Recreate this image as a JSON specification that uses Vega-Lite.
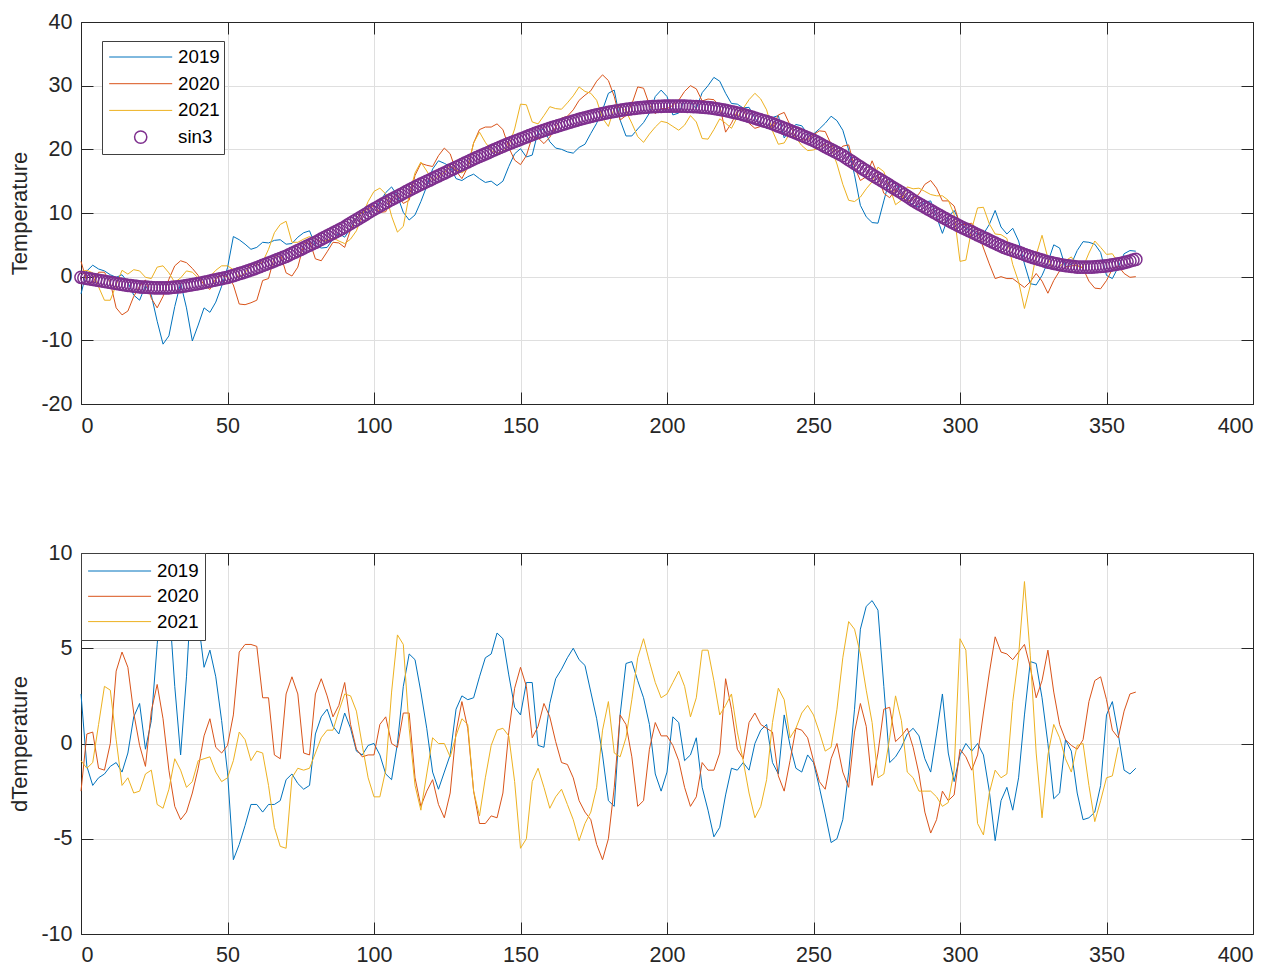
{
  "$schema": "https://vega.github.io/schema/vega-lite/v6.json",
  "background": "white",
  "padding": {"left": 8, "top": 10, "right": 0, "bottom": 0},
  "spacing": 104,
  "config": {
    "font": "Liberation Sans",
    "view": {"stroke": "#262626", "strokeWidth": 1},
    "axis": {
      "labelFont": "Liberation Sans", "labelFontSize": 21.5, "labelColor": "#262626",
      "labelExpr": "replace(datum.label, '\u2212', '-')",
      "titleFont": "Liberation Sans", "titleFontSize": 22, "titleFontWeight": "normal", "titleColor": "#262626",
      "domainColor": "#262626", "tickColor": "#262626", "tickSize": -12, "labelPadding": 21,
      "gridColor": "#dfdfdf", "gridWidth": 1, "titlePadding": 9
    },
    "legend": {
      "labelFont": "Liberation Sans", "labelFontSize": 18.7, "labelColor": "#000000",
      "fillColor": "white", "strokeColor": "#404040", "padding": 4,
      "symbolType": "stroke", "symbolSize": 3969, "symbolStrokeWidth": 1,
      "clipHeight": 24, "symbolOffset": 2.7, "labelOffset": 5.4
    }
  },
  "datasets": {
    "t": [
      {"x":0,"2019":-2.7,"2020":2.4,"2021":0.8},
      {"x":2,"2019":0.9,"2020":-0.8,"2021":1.0},
      {"x":4,"2019":1.8,"2020":-1.0,"2021":0.6},
      {"x":6,"2019":1.2,"2020":0.7,"2021":-1.6},
      {"x":8,"2019":0.9,"2020":0.7,"2021":-3.7},
      {"x":10,"2019":0.3,"2020":-0.9,"2021":-3.7},
      {"x":12,"2019":-0.1,"2020":-4.9,"2021":-1.3},
      {"x":14,"2019":0.3,"2020":-6.0,"2021":1.0},
      {"x":16,"2019":-0.9,"2020":-5.4,"2021":0.4},
      {"x":18,"2019":-2.9,"2020":-3.1,"2021":1.1},
      {"x":20,"2019":-3.7,"2020":-1.5,"2021":0.9},
      {"x":22,"2019":-1.4,"2020":-0.5,"2021":-0.1},
      {"x":24,"2019":-2.9,"2020":-3.4,"2021":-0.3},
      {"x":26,"2019":-7.0,"2020":-4.9,"2021":1.5},
      {"x":28,"2019":-10.6,"2020":-3.1,"2021":1.7},
      {"x":30,"2019":-9.3,"2020":-0.4,"2021":0.6},
      {"x":32,"2019":-4.7,"2020":1.7,"2021":-0.9},
      {"x":34,"2019":-1.0,"2020":2.5,"2021":-0.2},
      {"x":36,"2019":-4.9,"2020":2.2,"2021":0.9},
      {"x":38,"2019":-10.1,"2020":1.3,"2021":0.7},
      {"x":40,"2019":-7.6,"2020":0.2,"2021":-0.2},
      {"x":42,"2019":-4.9,"2020":-1.3,"2021":-0.1},
      {"x":44,"2019":-5.6,"2020":-2.0,"2021":0.0},
      {"x":46,"2019":-4.0,"2020":-0.3,"2021":1.0},
      {"x":48,"2019":-1.5,"2020":0.2,"2021":1.7},
      {"x":50,"2019":1.4,"2020":0.0,"2021":1.7},
      {"x":52,"2019":6.3,"2020":-1.3,"2021":1.1},
      {"x":54,"2019":5.8,"2020":-4.3,"2021":-0.1},
      {"x":56,"2019":5.1,"2020":-4.4,"2021":0.6},
      {"x":58,"2019":4.3,"2020":-4.1,"2021":2.0},
      {"x":60,"2019":4.6,"2020":-3.7,"2021":1.8},
      {"x":62,"2019":5.4,"2020":-0.6,"2021":2.3},
      {"x":64,"2019":5.3,"2020":-0.3,"2021":4.3},
      {"x":66,"2019":5.7,"2020":3.1,"2021":6.9},
      {"x":68,"2019":5.8,"2020":3.6,"2021":8.2},
      {"x":70,"2019":5.1,"2020":0.6,"2021":8.7},
      {"x":72,"2019":5.2,"2020":0.1,"2021":5.4},
      {"x":74,"2019":6.2,"2020":1.5,"2021":5.4},
      {"x":76,"2019":6.9,"2020":5.0,"2021":5.9},
      {"x":78,"2019":7.2,"2020":5.6,"2021":6.3},
      {"x":80,"2019":4.9,"2020":2.8,"2021":5.9},
      {"x":82,"2019":4.5,"2020":2.5,"2021":5.6},
      {"x":84,"2019":4.6,"2020":3.9,"2021":5.7},
      {"x":86,"2019":5.9,"2020":5.4,"2021":6.1},
      {"x":88,"2019":6.8,"2020":5.3,"2021":5.6},
      {"x":90,"2019":6.2,"2020":4.6,"2021":5.2},
      {"x":92,"2019":7.6,"2020":7.4,"2021":5.9},
      {"x":94,"2019":9.3,"2020":9.2,"2021":7.2},
      {"x":96,"2019":10.1,"2020":10.2,"2021":9.6},
      {"x":98,"2019":10.1,"2020":10.6,"2021":11.8},
      {"x":100,"2019":10.6,"2020":11.2,"2021":13.4},
      {"x":102,"2019":11.7,"2020":10.1,"2021":13.9},
      {"x":104,"2019":13.2,"2020":10.2,"2021":13.0},
      {"x":106,"2019":14.1,"2020":12.2,"2021":9.5},
      {"x":108,"2019":12.7,"2020":12.9,"2021":7.0},
      {"x":110,"2019":10.1,"2020":11.5,"2021":7.9},
      {"x":112,"2019":8.9,"2020":12.0,"2021":12.8},
      {"x":114,"2019":9.7,"2020":15.9,"2021":16.3},
      {"x":116,"2019":11.8,"2020":17.8,"2021":18.0},
      {"x":118,"2019":14.2,"2020":17.5,"2021":16.6},
      {"x":120,"2019":16.9,"2020":17.3,"2021":15.1},
      {"x":122,"2019":18.2,"2020":19.0,"2021":15.8},
      {"x":124,"2019":17.8,"2020":20.2,"2021":16.3},
      {"x":126,"2019":17.3,"2020":19.3,"2021":17.4},
      {"x":128,"2019":15.4,"2020":16.6,"2021":16.8},
      {"x":130,"2019":15.1,"2020":15.4,"2021":16.3},
      {"x":132,"2019":15.7,"2020":17.2,"2021":17.0},
      {"x":134,"2019":16.1,"2020":21.0,"2021":21.0},
      {"x":136,"2019":15.4,"2020":23.1,"2021":22.7},
      {"x":138,"2019":14.8,"2020":23.5,"2021":21.1},
      {"x":140,"2019":15.0,"2020":23.5,"2021":19.8},
      {"x":142,"2019":14.3,"2020":24.0,"2021":19.4},
      {"x":144,"2019":15.0,"2020":23.1,"2021":19.7},
      {"x":146,"2019":17.3,"2020":20.3,"2021":20.5},
      {"x":148,"2019":19.3,"2020":18.3,"2021":23.2},
      {"x":150,"2019":20.1,"2020":17.6,"2021":27.1},
      {"x":152,"2019":18.8,"2020":19.0,"2021":27.0},
      {"x":154,"2019":19.1,"2020":22.0,"2021":24.3},
      {"x":156,"2019":22.8,"2020":21.8,"2021":24.0},
      {"x":158,"2019":23.2,"2020":20.9,"2021":25.3},
      {"x":160,"2019":21.2,"2020":21.9,"2021":26.7},
      {"x":162,"2019":20.2,"2020":23.5,"2021":26.4},
      {"x":164,"2019":20.0,"2020":24.9,"2021":26.3},
      {"x":166,"2019":19.6,"2020":25.2,"2021":27.3},
      {"x":168,"2019":19.4,"2020":26.2,"2021":28.4},
      {"x":170,"2019":20.3,"2020":27.7,"2021":29.8},
      {"x":172,"2019":20.8,"2020":28.5,"2021":29.1},
      {"x":174,"2019":22.5,"2020":29.2,"2021":28.8},
      {"x":176,"2019":24.1,"2020":30.7,"2021":27.7},
      {"x":178,"2019":26.2,"2020":31.7,"2021":24.9},
      {"x":180,"2019":28.8,"2020":30.8,"2021":23.6},
      {"x":182,"2019":29.3,"2020":28.3,"2021":26.5},
      {"x":184,"2019":24.6,"2020":24.6,"2021":26.8},
      {"x":186,"2019":22.1,"2020":25.3,"2021":26.0},
      {"x":188,"2019":22.1,"2020":27.1,"2021":24.1},
      {"x":190,"2019":23.2,"2020":29.8,"2021":22.0},
      {"x":192,"2019":24.2,"2020":29.6,"2021":21.1},
      {"x":194,"2019":25.7,"2020":27.0,"2021":22.4},
      {"x":196,"2019":28.3,"2020":25.6,"2021":23.5},
      {"x":198,"2019":29.3,"2020":26.4,"2021":24.4},
      {"x":200,"2019":28.3,"2020":26.4,"2021":24.2},
      {"x":202,"2019":25.4,"2020":26.9,"2021":23.6},
      {"x":204,"2019":25.7,"2020":27.7,"2021":23.0},
      {"x":206,"2019":27.7,"2020":29.1,"2021":23.8},
      {"x":208,"2019":27.3,"2020":30.0,"2021":25.3},
      {"x":210,"2019":26.4,"2020":29.5,"2021":24.3},
      {"x":212,"2019":28.9,"2020":27.6,"2021":21.7},
      {"x":214,"2019":30.0,"2020":27.9,"2021":21.6},
      {"x":216,"2019":31.3,"2020":27.8,"2021":23.1},
      {"x":218,"2019":30.7,"2020":26.8,"2021":24.8},
      {"x":220,"2019":28.8,"2020":22.7,"2021":24.1},
      {"x":222,"2019":27.2,"2020":24.1,"2021":23.3},
      {"x":224,"2019":27.1,"2020":26.0,"2021":25.1},
      {"x":226,"2019":26.5,"2020":26.3,"2021":26.4},
      {"x":228,"2019":26.6,"2020":24.1,"2021":27.8},
      {"x":230,"2019":24.9,"2020":23.3,"2021":28.8},
      {"x":232,"2019":23.9,"2020":23.6,"2021":27.9},
      {"x":234,"2019":23.3,"2020":23.5,"2021":26.2},
      {"x":236,"2019":25.0,"2020":23.4,"2021":22.9},
      {"x":238,"2019":25.3,"2020":25.4,"2021":20.8},
      {"x":240,"2019":21.8,"2020":25.8,"2021":21.0},
      {"x":242,"2019":23.0,"2020":23.8,"2021":22.6},
      {"x":244,"2019":23.9,"2020":21.8,"2021":21.8},
      {"x":246,"2019":23.7,"2020":21.5,"2021":20.6},
      {"x":248,"2019":22.4,"2020":21.5,"2021":19.8},
      {"x":250,"2019":22.4,"2020":22.3,"2021":19.9},
      {"x":252,"2019":23.2,"2020":22.9,"2021":20.3},
      {"x":254,"2019":24.1,"2020":22.8,"2021":20.8},
      {"x":256,"2019":25.2,"2020":20.8,"2021":20.2},
      {"x":258,"2019":24.5,"2020":19.5,"2021":17.7},
      {"x":260,"2019":23.0,"2020":20.5,"2021":14.5},
      {"x":262,"2019":19.9,"2020":20.7,"2021":12.0},
      {"x":264,"2019":16.0,"2020":17.2,"2021":11.8},
      {"x":266,"2019":11.2,"2020":15.1,"2021":12.5},
      {"x":268,"2019":9.4,"2020":15.7,"2021":13.8},
      {"x":270,"2019":8.5,"2020":18.2,"2021":14.9},
      {"x":272,"2019":8.4,"2020":15.9,"2021":17.2},
      {"x":274,"2019":11.9,"2020":13.1,"2021":16.5},
      {"x":276,"2019":15.3,"2020":12.4,"2021":14.0},
      {"x":278,"2019":14.5,"2020":13.7,"2021":11.3},
      {"x":280,"2019":13.4,"2020":12.8,"2021":12.0},
      {"x":282,"2019":12.1,"2020":11.8,"2021":14.1},
      {"x":284,"2019":11.2,"2020":12.2,"2021":13.8},
      {"x":286,"2019":11.0,"2020":13.0,"2021":13.9},
      {"x":288,"2019":11.7,"2020":14.5,"2021":13.4},
      {"x":290,"2019":11.9,"2020":15.1,"2021":12.9},
      {"x":292,"2019":9.4,"2020":13.9,"2021":12.7},
      {"x":294,"2019":6.8,"2020":11.9,"2021":12.7},
      {"x":296,"2019":9.4,"2020":11.9,"2021":12.0},
      {"x":298,"2019":10.4,"2020":11.1,"2021":9.8},
      {"x":300,"2019":8.5,"2020":8.2,"2021":2.4},
      {"x":302,"2019":7.5,"2020":8.2,"2021":2.6},
      {"x":304,"2019":7.4,"2020":8.4,"2021":7.5},
      {"x":306,"2019":6.6,"2020":7.2,"2021":10.8},
      {"x":308,"2019":6.7,"2020":4.5,"2021":10.9},
      {"x":310,"2019":8.2,"2020":2.0,"2021":8.3},
      {"x":312,"2019":10.4,"2020":-0.3,"2021":6.7},
      {"x":314,"2019":7.8,"2020":0.0,"2021":6.6},
      {"x":316,"2019":6.7,"2020":-0.3,"2021":6.0},
      {"x":318,"2019":7.6,"2020":-0.3,"2021":1.9},
      {"x":320,"2019":5.6,"2020":-1.0,"2021":-0.8},
      {"x":322,"2019":2.0,"2020":-1.7,"2021":-5.0},
      {"x":324,"2019":-1.1,"2020":-0.8,"2021":-1.4},
      {"x":326,"2019":-1.3,"2020":0.5,"2021":3.4},
      {"x":328,"2019":0.2,"2020":-0.7,"2021":6.5},
      {"x":330,"2019":2.3,"2020":-2.6,"2021":2.9},
      {"x":332,"2019":5.0,"2020":-0.6,"2021":1.1},
      {"x":334,"2019":4.5,"2020":0.9,"2021":1.6},
      {"x":336,"2019":1.5,"2020":1.5,"2021":2.5},
      {"x":338,"2019":2.0,"2020":1.7,"2021":3.1},
      {"x":340,"2019":4.1,"2020":1.8,"2021":1.6},
      {"x":342,"2019":5.5,"2020":1.3,"2021":1.5},
      {"x":344,"2019":5.4,"2020":-0.7,"2021":3.7},
      {"x":346,"2019":5.1,"2020":-1.8,"2021":5.6},
      {"x":348,"2019":3.8,"2020":-1.9,"2021":4.6},
      {"x":350,"2019":0.2,"2020":-0.6,"2021":3.5},
      {"x":352,"2019":-0.3,"2020":1.2,"2021":3.6},
      {"x":354,"2019":1.5,"2020":1.7,"2021":2.2},
      {"x":356,"2019":3.6,"2020":0.5},
      {"x":358,"2019":4.1,"2020":-0.1},
      {"x":360,"2019":4.0,"2020":0.0}
    ],
    "c": [
      {"x":0,"s":-0.1},{"x":1,"s":-0.2},{"x":2,"s":-0.26},{"x":3,"s":-0.34},{"x":4,"s":-0.42},{"x":5,"s":-0.5},{"x":6,"s":-0.58},{"x":7,"s":-0.66},{"x":8,"s":-0.74},{"x":9,"s":-0.82},
      {"x":10,"s":-0.9},{"x":11,"s":-0.98},{"x":12,"s":-1.06},{"x":13,"s":-1.14},{"x":14,"s":-1.22},{"x":15,"s":-1.3},{"x":16,"s":-1.36},{"x":17,"s":-1.42},{"x":18,"s":-1.48},{"x":19,"s":-1.54},
      {"x":20,"s":-1.6},{"x":21,"s":-1.63},{"x":22,"s":-1.66},{"x":23,"s":-1.69},{"x":24,"s":-1.72},{"x":25,"s":-1.75},{"x":26,"s":-1.75},{"x":27,"s":-1.75},{"x":28,"s":-1.75},{"x":29,"s":-1.75},
      {"x":30,"s":-1.75},{"x":31,"s":-1.7},{"x":32,"s":-1.65},{"x":33,"s":-1.6},{"x":34,"s":-1.55},{"x":35,"s":-1.5},{"x":36,"s":-1.42},{"x":37,"s":-1.34},{"x":38,"s":-1.26},{"x":39,"s":-1.18},
      {"x":40,"s":-1.1},{"x":41,"s":-1.0},{"x":42,"s":-0.9},{"x":43,"s":-0.8},{"x":44,"s":-0.7},{"x":45,"s":-0.6},{"x":46,"s":-0.5},{"x":47,"s":-0.4},{"x":48,"s":-0.3},{"x":49,"s":-0.2},
      {"x":50,"s":-0.1},{"x":51,"s":0.04},{"x":52,"s":0.18},{"x":53,"s":0.32},{"x":54,"s":0.46},{"x":55,"s":0.6},{"x":56,"s":0.76},{"x":57,"s":0.92},{"x":58,"s":1.08},{"x":59,"s":1.24},
      {"x":60,"s":1.4},{"x":61,"s":1.58},{"x":62,"s":1.76},{"x":63,"s":1.94},{"x":64,"s":2.12},{"x":65,"s":2.3},{"x":66,"s":2.48},{"x":67,"s":2.66},{"x":68,"s":2.84},{"x":69,"s":3.02},
      {"x":70,"s":3.2},{"x":71,"s":3.42},{"x":72,"s":3.64},{"x":73,"s":3.86},{"x":74,"s":4.08},{"x":75,"s":4.3},{"x":76,"s":4.52},{"x":77,"s":4.74},{"x":78,"s":4.96},{"x":79,"s":5.18},
      {"x":80,"s":5.4},{"x":81,"s":5.64},{"x":82,"s":5.88},{"x":83,"s":6.12},{"x":84,"s":6.36},{"x":85,"s":6.6},{"x":86,"s":6.84},{"x":87,"s":7.08},{"x":88,"s":7.32},{"x":89,"s":7.56},
      {"x":90,"s":7.8},{"x":91,"s":8.08},{"x":92,"s":8.36},{"x":93,"s":8.64},{"x":94,"s":8.92},{"x":95,"s":9.2},{"x":96,"s":9.48},{"x":97,"s":9.76},{"x":98,"s":10.04},{"x":99,"s":10.32},
      {"x":100,"s":10.6},{"x":101,"s":10.86},{"x":102,"s":11.12},{"x":103,"s":11.38},{"x":104,"s":11.64},{"x":105,"s":11.9},{"x":106,"s":12.14},{"x":107,"s":12.38},{"x":108,"s":12.62},{"x":109,"s":12.86},
      {"x":110,"s":13.1},{"x":111,"s":13.34},{"x":112,"s":13.58},{"x":113,"s":13.82},{"x":114,"s":14.06},{"x":115,"s":14.3},{"x":116,"s":14.52},{"x":117,"s":14.74},{"x":118,"s":14.96},{"x":119,"s":15.18},
      {"x":120,"s":15.4},{"x":121,"s":15.62},{"x":122,"s":15.84},{"x":123,"s":16.06},{"x":124,"s":16.28},{"x":125,"s":16.5},{"x":126,"s":16.72},{"x":127,"s":16.94},{"x":128,"s":17.16},{"x":129,"s":17.38},
      {"x":130,"s":17.6},{"x":131,"s":17.82},{"x":132,"s":18.04},{"x":133,"s":18.26},{"x":134,"s":18.48},{"x":135,"s":18.7},{"x":136,"s":18.9},{"x":137,"s":19.1},{"x":138,"s":19.3},{"x":139,"s":19.5},
      {"x":140,"s":19.7},{"x":141,"s":19.9},{"x":142,"s":20.1},{"x":143,"s":20.3},{"x":144,"s":20.5},{"x":145,"s":20.7},{"x":146,"s":20.88},{"x":147,"s":21.06},{"x":148,"s":21.24},{"x":149,"s":21.42},
      {"x":150,"s":21.6},{"x":151,"s":21.78},{"x":152,"s":21.96},{"x":153,"s":22.14},{"x":154,"s":22.32},{"x":155,"s":22.5},{"x":156,"s":22.66},{"x":157,"s":22.82},{"x":158,"s":22.98},{"x":159,"s":23.14},
      {"x":160,"s":23.3},{"x":161,"s":23.44},{"x":162,"s":23.58},{"x":163,"s":23.72},{"x":164,"s":23.86},{"x":165,"s":24.0},{"x":166,"s":24.14},{"x":167,"s":24.28},{"x":168,"s":24.42},{"x":169,"s":24.56},
      {"x":170,"s":24.7},{"x":171,"s":24.82},{"x":172,"s":24.94},{"x":173,"s":25.06},{"x":174,"s":25.18},{"x":175,"s":25.3},{"x":176,"s":25.4},{"x":177,"s":25.5},{"x":178,"s":25.6},{"x":179,"s":25.7},
      {"x":180,"s":25.8},{"x":181,"s":25.88},{"x":182,"s":25.96},{"x":183,"s":26.04},{"x":184,"s":26.12},{"x":185,"s":26.2},{"x":186,"s":26.26},{"x":187,"s":26.32},{"x":188,"s":26.38},{"x":189,"s":26.44},
      {"x":190,"s":26.5},{"x":191,"s":26.54},{"x":192,"s":26.58},{"x":193,"s":26.62},{"x":194,"s":26.66},{"x":195,"s":26.7},{"x":196,"s":26.72},{"x":197,"s":26.74},{"x":198,"s":26.76},{"x":199,"s":26.78},
      {"x":200,"s":26.8},{"x":201,"s":26.8},{"x":202,"s":26.8},{"x":203,"s":26.8},{"x":204,"s":26.8},{"x":205,"s":26.8},{"x":206,"s":26.78},{"x":207,"s":26.76},{"x":208,"s":26.74},{"x":209,"s":26.72},
      {"x":210,"s":26.7},{"x":211,"s":26.66},{"x":212,"s":26.62},{"x":213,"s":26.58},{"x":214,"s":26.54},{"x":215,"s":26.5},{"x":216,"s":26.42},{"x":217,"s":26.34},{"x":218,"s":26.26},{"x":219,"s":26.18},
      {"x":220,"s":26.1},{"x":221,"s":26.0},{"x":222,"s":25.9},{"x":223,"s":25.8},{"x":224,"s":25.7},{"x":225,"s":25.6},{"x":226,"s":25.46},{"x":227,"s":25.32},{"x":228,"s":25.18},{"x":229,"s":25.04},
      {"x":230,"s":24.9},{"x":231,"s":24.76},{"x":232,"s":24.62},{"x":233,"s":24.48},{"x":234,"s":24.34},{"x":235,"s":24.2},{"x":236,"s":24.02},{"x":237,"s":23.84},{"x":238,"s":23.66},{"x":239,"s":23.48},
      {"x":240,"s":23.3},{"x":241,"s":23.12},{"x":242,"s":22.94},{"x":243,"s":22.76},{"x":244,"s":22.58},{"x":245,"s":22.4},{"x":246,"s":22.2},{"x":247,"s":22.0},{"x":248,"s":21.8},{"x":249,"s":21.6},
      {"x":250,"s":21.4},{"x":251,"s":21.16},{"x":252,"s":20.92},{"x":253,"s":20.68},{"x":254,"s":20.44},{"x":255,"s":20.2},{"x":256,"s":19.96},{"x":257,"s":19.72},{"x":258,"s":19.48},{"x":259,"s":19.24},
      {"x":260,"s":19.0},{"x":261,"s":18.7},{"x":262,"s":18.4},{"x":263,"s":18.1},{"x":264,"s":17.8},{"x":265,"s":17.5},{"x":266,"s":17.2},{"x":267,"s":16.9},{"x":268,"s":16.6},{"x":269,"s":16.3},
      {"x":270,"s":16.0},{"x":271,"s":15.72},{"x":272,"s":15.44},{"x":273,"s":15.16},{"x":274,"s":14.88},{"x":275,"s":14.6},{"x":276,"s":14.32},{"x":277,"s":14.04},{"x":278,"s":13.76},{"x":279,"s":13.48},
      {"x":280,"s":13.2},{"x":281,"s":12.9},{"x":282,"s":12.6},{"x":283,"s":12.3},{"x":284,"s":12.0},{"x":285,"s":11.7},{"x":286,"s":11.44},{"x":287,"s":11.18},{"x":288,"s":10.92},{"x":289,"s":10.66},
      {"x":290,"s":10.4},{"x":291,"s":10.14},{"x":292,"s":9.88},{"x":293,"s":9.62},{"x":294,"s":9.36},{"x":295,"s":9.1},{"x":296,"s":8.86},{"x":297,"s":8.62},{"x":298,"s":8.38},{"x":299,"s":8.14},
      {"x":300,"s":7.9},{"x":301,"s":7.68},{"x":302,"s":7.46},{"x":303,"s":7.24},{"x":304,"s":7.02},{"x":305,"s":6.8},{"x":306,"s":6.58},{"x":307,"s":6.36},{"x":308,"s":6.14},{"x":309,"s":5.92},
      {"x":310,"s":5.7},{"x":311,"s":5.48},{"x":312,"s":5.26},{"x":313,"s":5.04},{"x":314,"s":4.82},{"x":315,"s":4.6},{"x":316,"s":4.44},{"x":317,"s":4.28},{"x":318,"s":4.12},{"x":319,"s":3.96},
      {"x":320,"s":3.8},{"x":321,"s":3.64},{"x":322,"s":3.48},{"x":323,"s":3.32},{"x":324,"s":3.16},{"x":325,"s":3.0},{"x":326,"s":2.86},{"x":327,"s":2.72},{"x":328,"s":2.58},{"x":329,"s":2.44},
      {"x":330,"s":2.3},{"x":331,"s":2.2},{"x":332,"s":2.1},{"x":333,"s":2.0},{"x":334,"s":1.9},{"x":335,"s":1.8},{"x":336,"s":1.74},{"x":337,"s":1.68},{"x":338,"s":1.62},{"x":339,"s":1.56},
      {"x":340,"s":1.5},{"x":341,"s":1.5},{"x":342,"s":1.5},{"x":343,"s":1.5},{"x":344,"s":1.5},{"x":345,"s":1.5},{"x":346,"s":1.54},{"x":347,"s":1.58},{"x":348,"s":1.62},{"x":349,"s":1.66},
      {"x":350,"s":1.7},{"x":351,"s":1.78},{"x":352,"s":1.86},{"x":353,"s":1.94},{"x":354,"s":2.02},{"x":355,"s":2.1},{"x":356,"s":2.22},{"x":357,"s":2.34},{"x":358,"s":2.46},{"x":359,"s":2.58},
      {"x":360,"s":2.7}
    ],
    "d": [
      {"x":0,"2019":2.6,"2020":-2.5,"2021":-0.9},
      {"x":2,"2019":-1.2,"2020":0.5,"2021":-1.3},
      {"x":4,"2019":-2.2,"2020":0.6,"2021":-1.0},
      {"x":6,"2019":-1.8,"2020":-1.3,"2021":1.0},
      {"x":8,"2019":-1.6,"2020":-1.4,"2021":3.0},
      {"x":10,"2019":-1.2,"2020":0.0,"2021":2.8},
      {"x":12,"2019":-1.0,"2020":3.8,"2021":0.2},
      {"x":14,"2019":-1.5,"2020":4.8,"2021":-2.2},
      {"x":16,"2019":-0.5,"2020":4.0,"2021":-1.8},
      {"x":18,"2019":1.4,"2020":1.6,"2021":-2.6},
      {"x":20,"2019":2.1,"2020":-0.1,"2021":-2.5},
      {"x":22,"2019":-0.3,"2020":-1.2,"2021":-1.6},
      {"x":24,"2019":1.2,"2020":1.7,"2021":-1.4},
      {"x":26,"2019":5.2,"2020":3.1,"2021":-3.2},
      {"x":28,"2019":8.8,"2020":1.3,"2021":-3.4},
      {"x":30,"2019":7.5,"2020":-1.4,"2021":-2.4},
      {"x":32,"2019":3.0,"2020":-3.3,"2021":-0.8},
      {"x":34,"2019":-0.6,"2020":-4.0,"2021":-1.4},
      {"x":36,"2019":3.5,"2020":-3.6,"2021":-2.3},
      {"x":38,"2019":8.8,"2020":-2.6,"2021":-2.0},
      {"x":40,"2019":6.5,"2020":-1.3,"2021":-0.9},
      {"x":42,"2019":4.0,"2020":0.4,"2021":-0.8},
      {"x":44,"2019":4.9,"2020":1.3,"2021":-0.7},
      {"x":46,"2019":3.5,"2020":-0.2,"2021":-1.5},
      {"x":48,"2019":1.2,"2020":-0.5,"2021":-2.0},
      {"x":50,"2019":-1.5,"2020":-0.1,"2021":-1.8},
      {"x":52,"2019":-6.1,"2020":1.5,"2021":-0.9},
      {"x":54,"2019":-5.3,"2020":4.8,"2021":0.6},
      {"x":56,"2019":-4.3,"2020":5.2,"2021":0.2},
      {"x":58,"2019":-3.2,"2020":5.2,"2021":-0.9},
      {"x":60,"2019":-3.2,"2020":5.1,"2021":-0.4},
      {"x":62,"2019":-3.6,"2020":2.4,"2021":-0.5},
      {"x":64,"2019":-3.2,"2020":2.4,"2021":-2.2},
      {"x":66,"2019":-3.2,"2020":-0.6,"2021":-4.4},
      {"x":68,"2019":-3.0,"2020":-0.8,"2021":-5.4},
      {"x":70,"2019":-1.9,"2020":2.6,"2021":-5.5},
      {"x":72,"2019":-1.6,"2020":3.5,"2021":-1.8},
      {"x":74,"2019":-2.1,"2020":2.6,"2021":-1.3},
      {"x":76,"2019":-2.4,"2020":-0.5,"2021":-1.4},
      {"x":78,"2019":-2.2,"2020":-0.6,"2021":-1.3},
      {"x":80,"2019":0.5,"2020":2.6,"2021":-0.5},
      {"x":82,"2019":1.4,"2020":3.4,"2021":0.3},
      {"x":84,"2019":1.8,"2020":2.5,"2021":0.7},
      {"x":86,"2019":0.9,"2020":1.4,"2021":0.7},
      {"x":88,"2019":0.5,"2020":2.0,"2021":1.7},
      {"x":90,"2019":1.6,"2020":3.2,"2021":2.6},
      {"x":92,"2019":0.8,"2020":1.0,"2021":2.5},
      {"x":94,"2019":-0.4,"2020":-0.3,"2021":1.7},
      {"x":96,"2019":-0.6,"2020":-0.7,"2021":-0.1},
      {"x":98,"2019":-0.1,"2020":-0.6,"2021":-1.8},
      {"x":100,"2019":0.0,"2020":-0.6,"2021":-2.8},
      {"x":102,"2019":-0.6,"2020":1.0,"2021":-2.8},
      {"x":104,"2019":-1.6,"2020":1.4,"2021":-1.4},
      {"x":106,"2019":-1.9,"2020":0.0,"2021":2.7},
      {"x":108,"2019":0.0,"2020":-0.2,"2021":5.7},
      {"x":110,"2019":3.0,"2020":1.6,"2021":5.2},
      {"x":112,"2019":4.7,"2020":1.6,"2021":0.8},
      {"x":114,"2019":4.4,"2020":-1.8,"2021":-2.2},
      {"x":116,"2019":2.7,"2020":-3.3,"2021":-3.5},
      {"x":118,"2019":0.8,"2020":-2.5,"2021":-1.6},
      {"x":120,"2019":-1.5,"2020":-1.9,"2021":0.3},
      {"x":122,"2019":-2.4,"2020":-3.2,"2021":0.0},
      {"x":124,"2019":-1.5,"2020":-3.9,"2021":0.0},
      {"x":126,"2019":-0.6,"2020":-2.6,"2021":-0.7},
      {"x":128,"2019":1.8,"2020":0.6,"2021":0.4},
      {"x":130,"2019":2.5,"2020":2.2,"2021":1.3},
      {"x":132,"2019":2.3,"2020":0.8,"2021":1.0},
      {"x":134,"2019":2.4,"2020":-2.5,"2021":-2.5},
      {"x":136,"2019":3.5,"2020":-4.2,"2021":-3.8},
      {"x":138,"2019":4.5,"2020":-4.2,"2021":-1.8},
      {"x":140,"2019":4.7,"2020":-3.8,"2021":-0.1},
      {"x":142,"2019":5.8,"2020":-3.9,"2021":0.7},
      {"x":144,"2019":5.5,"2020":-2.6,"2021":0.8},
      {"x":146,"2019":3.6,"2020":0.6,"2021":0.4},
      {"x":148,"2019":1.9,"2020":2.9,"2021":-2.0},
      {"x":150,"2019":1.5,"2020":4.0,"2021":-5.5},
      {"x":152,"2019":3.2,"2020":3.0,"2021":-5.0},
      {"x":154,"2019":3.2,"2020":0.3,"2021":-2.0},
      {"x":156,"2019":-0.1,"2020":0.9,"2021":-1.3},
      {"x":158,"2019":-0.2,"2020":2.1,"2021":-2.3},
      {"x":160,"2019":2.1,"2020":1.4,"2021":-3.4},
      {"x":162,"2019":3.4,"2020":0.1,"2021":-2.8},
      {"x":164,"2019":3.9,"2020":-1.0,"2021":-2.4},
      {"x":166,"2019":4.5,"2020":-1.1,"2021":-3.2},
      {"x":168,"2019":5.0,"2020":-1.8,"2021":-4.0},
      {"x":170,"2019":4.4,"2020":-3.0,"2021":-5.1},
      {"x":172,"2019":4.1,"2020":-3.6,"2021":-4.2},
      {"x":174,"2019":2.7,"2020":-4.0,"2021":-3.6},
      {"x":176,"2019":1.3,"2020":-5.3,"2021":-2.3},
      {"x":178,"2019":-0.6,"2020":-6.1,"2021":0.7},
      {"x":180,"2019":-3.0,"2020":-5.0,"2021":2.2},
      {"x":182,"2019":-3.3,"2020":-2.3,"2021":-0.5},
      {"x":184,"2019":1.5,"2020":1.5,"2021":-0.7},
      {"x":186,"2019":4.2,"2020":1.0,"2021":0.3},
      {"x":188,"2019":4.3,"2020":-0.7,"2021":2.3},
      {"x":190,"2019":3.3,"2020":-3.3,"2021":4.5},
      {"x":192,"2019":2.4,"2020":-3.0,"2021":5.5},
      {"x":194,"2019":1.0,"2020":-0.3,"2021":4.3},
      {"x":196,"2019":-1.6,"2020":1.1,"2021":3.2},
      {"x":198,"2019":-2.5,"2020":0.4,"2021":2.4},
      {"x":200,"2019":-1.5,"2020":0.4,"2021":2.6},
      {"x":202,"2019":1.4,"2020":-0.1,"2021":3.2},
      {"x":204,"2019":1.1,"2020":-0.9,"2021":3.8},
      {"x":206,"2019":-0.9,"2020":-2.3,"2021":3.0},
      {"x":208,"2019":-0.6,"2020":-3.3,"2021":1.4},
      {"x":210,"2019":0.3,"2020":-2.8,"2021":2.4},
      {"x":212,"2019":-2.3,"2020":-1.0,"2021":4.9},
      {"x":214,"2019":-3.5,"2020":-1.4,"2021":4.9},
      {"x":216,"2019":-4.9,"2020":-1.4,"2021":3.3},
      {"x":218,"2019":-4.4,"2020":-0.5,"2021":1.5},
      {"x":220,"2019":-2.7,"2020":3.4,"2021":2.0},
      {"x":222,"2019":-1.3,"2020":1.8,"2021":2.6},
      {"x":224,"2019":-1.4,"2020":-0.3,"2021":0.6},
      {"x":226,"2019":-1.0,"2020":-0.8,"2021":-0.9},
      {"x":228,"2019":-1.4,"2020":1.1,"2021":-2.6},
      {"x":230,"2019":0.0,"2020":1.6,"2021":-3.9},
      {"x":232,"2019":0.7,"2020":1.0,"2021":-3.3},
      {"x":234,"2019":1.0,"2020":0.8,"2021":-1.9},
      {"x":236,"2019":-1.0,"2020":0.6,"2021":1.1},
      {"x":238,"2019":-1.6,"2020":-1.7,"2021":2.9},
      {"x":240,"2019":1.5,"2020":-2.5,"2021":2.3},
      {"x":242,"2019":-0.1,"2020":-0.9,"2021":0.3},
      {"x":244,"2019":-1.3,"2020":0.8,"2021":0.8},
      {"x":246,"2019":-1.5,"2020":0.7,"2021":1.6},
      {"x":248,"2019":-0.6,"2020":0.3,"2021":2.0},
      {"x":250,"2019":-1.0,"2020":-0.9,"2021":1.5},
      {"x":252,"2019":-2.3,"2020":-2.0,"2021":0.6},
      {"x":254,"2019":-3.7,"2020":-2.4,"2021":-0.4},
      {"x":256,"2019":-5.2,"2020":-0.8,"2021":-0.2},
      {"x":258,"2019":-5.0,"2020":0.0,"2021":1.8},
      {"x":260,"2019":-4.0,"2020":-1.5,"2021":4.5},
      {"x":262,"2019":-1.5,"2020":-2.3,"2021":6.4},
      {"x":264,"2019":1.8,"2020":0.6,"2021":6.0},
      {"x":266,"2019":6.0,"2020":2.1,"2021":4.7},
      {"x":268,"2019":7.2,"2020":0.9,"2021":2.8},
      {"x":270,"2019":7.5,"2020":-2.2,"2021":1.1},
      {"x":272,"2019":7.0,"2020":-0.5,"2021":-1.8},
      {"x":274,"2019":3.0,"2020":1.8,"2021":-1.6},
      {"x":276,"2019":-1.0,"2020":1.9,"2021":0.3},
      {"x":278,"2019":-0.7,"2020":0.1,"2021":2.5},
      {"x":280,"2019":-0.2,"2020":0.4,"2021":1.2},
      {"x":282,"2019":0.5,"2020":0.8,"2021":-1.5},
      {"x":284,"2019":0.8,"2020":-0.2,"2021":-1.8},
      {"x":286,"2019":0.4,"2020":-1.6,"2021":-2.5},
      {"x":288,"2019":-0.8,"2020":-3.6,"2021":-2.5},
      {"x":290,"2019":-1.5,"2020":-4.7,"2021":-2.5},
      {"x":292,"2019":0.5,"2020":-4.0,"2021":-2.8},
      {"x":294,"2019":2.6,"2020":-2.5,"2021":-3.3},
      {"x":296,"2019":-0.5,"2020":-3.0,"2021":-3.1},
      {"x":298,"2019":-2.0,"2020":-2.7,"2021":-1.4},
      {"x":300,"2019":-0.6,"2020":-0.3,"2021":5.5},
      {"x":302,"2019":0.0,"2020":-0.7,"2021":4.9},
      {"x":304,"2019":-0.4,"2020":-1.4,"2021":-0.5},
      {"x":306,"2019":0.0,"2020":-0.6,"2021":-4.2},
      {"x":308,"2019":-0.6,"2020":1.6,"2021":-4.8},
      {"x":310,"2019":-2.5,"2020":3.7,"2021":-2.6},
      {"x":312,"2019":-5.1,"2020":5.6,"2021":-1.4},
      {"x":314,"2019":-3.0,"2020":4.8,"2021":-1.8},
      {"x":316,"2019":-2.3,"2020":4.7,"2021":-1.6},
      {"x":318,"2019":-3.5,"2020":4.4,"2021":2.2},
      {"x":320,"2019":-1.8,"2020":4.8,"2021":4.6},
      {"x":322,"2019":1.5,"2020":5.2,"2021":8.5},
      {"x":324,"2019":4.3,"2020":4.0,"2021":4.6},
      {"x":326,"2019":4.2,"2020":2.4,"2021":-0.5},
      {"x":328,"2019":2.4,"2020":3.3,"2021":-3.9},
      {"x":330,"2019":0.0,"2020":4.9,"2021":-0.6},
      {"x":332,"2019":-2.9,"2020":2.7,"2021":1.0},
      {"x":334,"2019":-2.6,"2020":1.0,"2021":0.3},
      {"x":336,"2019":0.2,"2020":0.2,"2021":-0.8},
      {"x":338,"2019":-0.4,"2020":-0.1,"2021":-1.5},
      {"x":340,"2019":-2.6,"2020":-0.3,"2021":-0.1},
      {"x":342,"2019":-4.0,"2020":0.2,"2021":0.0},
      {"x":344,"2019":-3.9,"2020":2.2,"2021":-2.2},
      {"x":346,"2019":-3.6,"2020":3.3,"2021":-4.1},
      {"x":348,"2019":-2.2,"2020":3.5,"2021":-3.0},
      {"x":350,"2019":1.5,"2020":2.3,"2021":-1.8},
      {"x":352,"2019":2.2,"2020":0.7,"2021":-1.7},
      {"x":354,"2019":0.5,"2020":0.3,"2021":-0.2},
      {"x":356,"2019":-1.4,"2020":1.7},
      {"x":358,"2019":-1.6,"2020":2.6},
      {"x":360,"2019":-1.3,"2020":2.7}
    ]
  },
  "vconcat": [
    {
      "width": 1172,
      "height": 382,
      "layer": [
        {
          "data": {"name": "t"},
          "transform": [{"fold": ["2019", "2020", "2021"], "as": ["series", "T"]}],
          "mark": {"type": "line", "strokeWidth": 1},
          "encoding": {
            "x": {"field": "x", "type": "quantitative", "scale": {"domain": [0, 400], "nice": false},
                  "axis": {"values": [0, 50, 100, 150, 200, 250, 300, 350, 400], "title": null, "grid": true, "labelPadding": 23}},
            "y": {"field": "T", "type": "quantitative", "scale": {"domain": [-20, 40], "nice": false},
                  "axis": {"values": [-20, -10, 0, 10, 20, 30, 40], "title": "Temperature", "grid": true}},
            "color": {
              "field": "series", "type": "nominal",
              "scale": {"domain": ["2019", "2020", "2021", "sin3"], "range": ["#0072BD", "#D95319", "#EDB120", "#7E2F8E"]},
              "legend": {
                "title": null, "orient": "none", "legendX": 21, "legendY": 19, "rowPadding": 2.7,
                "encode": {"symbols": {"update": {
                  "shape": {"signal": "(datum.value === 'sin3' ? 'circle' : 'stroke')"},
                  "size": {"signal": "(datum.value === 'sin3' ? 150 : 3969)"},
                  "strokeWidth": {"signal": "(datum.value === 'sin3' ? 1.5 : 1)"}
                }}}
              }
            }
          }
        },
        {
          "data": {"name": "c"},
          "mark": {"type": "point", "filled": false, "size": 150, "strokeWidth": 1.5, "opacity": 1, "color": "#7E2F8E"},
          "encoding": {
            "x": {"field": "x", "type": "quantitative",
                  "axis": {"orient": "top", "values": [0, 50, 100, 150, 200, 250, 300, 350, 400], "labels": false, "grid": false, "title": null}},
            "y": {"field": "s", "type": "quantitative",
                  "axis": {"orient": "right", "values": [-20, -10, 0, 10, 20, 30, 40], "labels": false, "grid": false, "title": null}}
          }
        }
      ],
      "resolve": {"axis": {"x": "independent", "y": "independent"}}
    },
    {
      "width": 1172,
      "height": 381,
      "data": {"name": "d"},
      "layer": [
        {
          "transform": [{"fold": ["2019", "2020", "2021"], "as": ["series", "dT"]}],
          "mark": {"type": "line", "strokeWidth": 1},
          "encoding": {
            "x": {"field": "x", "type": "quantitative", "scale": {"domain": [0, 400], "nice": false},
                  "axis": {"values": [0, 50, 100, 150, 200, 250, 300, 350, 400], "title": null, "grid": true, "labelPadding": 22}},
            "y": {"field": "dT", "type": "quantitative", "scale": {"domain": [-10, 10], "nice": false},
                  "axis": {"values": [-10, -5, 0, 5, 10], "title": "dTemperature", "grid": true}},
            "color": {
              "field": "series", "type": "nominal",
              "scale": {"domain": ["2019", "2020", "2021"], "range": ["#0072BD", "#D95319", "#EDB120"]},
              "legend": {"title": null, "orient": "none", "legendX": 0, "legendY": 0, "rowPadding": 1.3, "padding": 6, "symbolOffset": 0.6}
            }
          }
        },
        {
          "mark": {"type": "line", "opacity": 0},
          "encoding": {
            "x": {"field": "x", "type": "quantitative",
                  "axis": {"orient": "top", "values": [0, 50, 100, 150, 200, 250, 300, 350, 400], "labels": false, "grid": false, "title": null}},
            "y": {"field": "2019", "type": "quantitative",
                  "axis": {"orient": "right", "values": [-10, -5, 0, 5, 10], "labels": false, "grid": false, "title": null}}
          }
        }
      ],
      "resolve": {"axis": {"x": "independent", "y": "independent"}}
    }
  ],
  "resolve": {
    "scale": {"color": "independent", "x": "independent", "y": "independent"},
    "legend": {"color": "independent"}
  }
}
